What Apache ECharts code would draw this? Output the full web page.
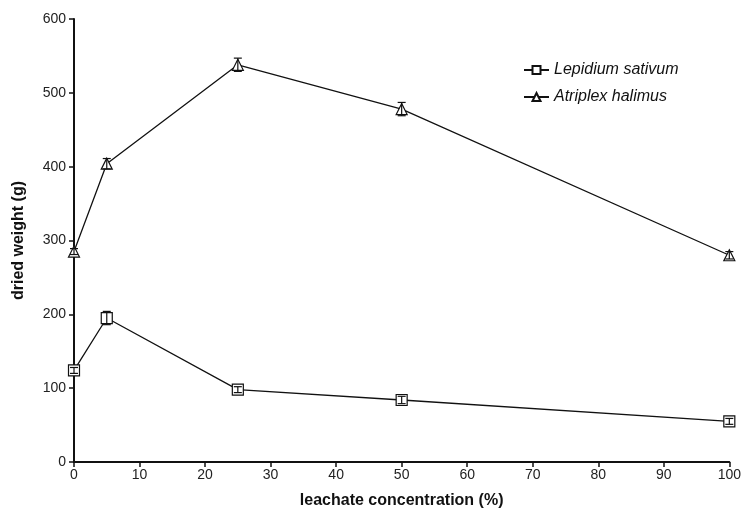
<!DOCTYPE html>
<html><head><meta charset="utf-8">
<script src="https://cdn.jsdelivr.net/npm/echarts@6/dist/echarts.min.js"></script>
<style>html,body{margin:0;padding:0;background:#fff}#c{width:744px;height:514px}</style>
</head><body><div id="c"></div>
<script>
const concentrations = [0, 5, 25, 50, 100];
const lepidium = [124, 195, 98, 84, 55];
const lepidiumErr = [4, 9, 4, 5, 4];
const atriplex = [285, 404, 538, 478, 280];
const atriplexErr = [4, 7, 9, 9, 5];
const seriesNames = ['Lepidium sativum', 'Atriplex halimus'];

const font = 'Liberation Sans, Arial, sans-serif';
function pairs(xs, ys) { return xs.map((x, i) => [x, ys[i]]); }
function errData(xs, ys, es) { return xs.map((x, i) => [x, ys[i] - es[i], ys[i] + es[i]]); }
function errRender(params, api) {
  const x = api.value(0);
  const lo = api.coord([x, api.value(1)]);
  const hi = api.coord([x, api.value(2)]);
  const w = 4;
  const style = { stroke: '#111', lineWidth: 1.2 };
  return { type: 'group', children: [
    { type: 'line', shape: { x1: lo[0], y1: lo[1], x2: hi[0], y2: hi[1] }, style },
    { type: 'line', shape: { x1: lo[0] - w, y1: lo[1], x2: lo[0] + w, y2: lo[1] }, style },
    { type: 'line', shape: { x1: hi[0] - w, y1: hi[1], x2: hi[0] + w, y2: hi[1] }, style }
  ]};
}
const chart = echarts.init(document.getElementById('c'));
chart.setOption({
  animation: false,
  backgroundColor: '#fff',
  grid: { left: 74, right: 13, top: 19, bottom: 51, containLabel: false },
  legend: {
    data: seriesNames,
    orient: 'vertical', left: 518, top: 57, itemGap: 11,
    itemWidth: 25, itemHeight: 10,
    textStyle: { fontFamily: font, fontSize: 16, fontStyle: 'italic', color: '#111' }
  },
  xAxis: {
    type: 'value', min: 0, max: 100, interval: 10,
    name: 'leachate concentration (%)', nameLocation: 'middle', nameGap: 31,
    nameTextStyle: { fontFamily: font, fontSize: 16, fontWeight: 'bold', color: '#111' },
    axisLine: { lineStyle: { color: '#111', width: 2 } },
    axisTick: { show: true, length: 5, lineStyle: { color: '#111', width: 1.5 } },
    axisLabel: { fontFamily: font, fontSize: 14, color: '#222', margin: 6 },
    splitLine: { show: false }
  },
  yAxis: {
    type: 'value', min: 0, max: 600, interval: 100,
    name: 'dried weight (g)', nameLocation: 'middle', nameGap: 47,
    nameTextStyle: { fontFamily: font, fontSize: 16, fontWeight: 'bold', color: '#111' },
    axisLine: { show: true, lineStyle: { color: '#111', width: 2 } },
    axisTick: { show: true, length: 5, lineStyle: { color: '#111', width: 1.5 } },
    axisLabel: { fontFamily: font, fontSize: 14, color: '#222', margin: 8 },
    splitLine: { show: false }
  },
  series: [
    { name: seriesNames[0], type: 'line', data: pairs(concentrations, lepidium),
      symbol: 'rect', symbolSize: 11, showAllSymbol: true,
      lineStyle: { color: '#111', width: 1.3 },
      itemStyle: { color: '#fff', borderColor: '#111', borderWidth: 1.2 }, z: 3 },
    { name: seriesNames[1], type: 'line', data: pairs(concentrations, atriplex),
      symbol: 'triangle', symbolSize: 11, showAllSymbol: true,
      lineStyle: { color: '#111', width: 1.3 },
      itemStyle: { color: '#fff', borderColor: '#111', borderWidth: 1.2 }, z: 3 },
    { type: 'custom', renderItem: errRender, data: errData(concentrations, lepidium, lepidiumErr), z: 4, silent: true },
    { type: 'custom', renderItem: errRender, data: errData(concentrations, atriplex, atriplexErr), z: 4, silent: true }
  ]
});
</script></body></html>
